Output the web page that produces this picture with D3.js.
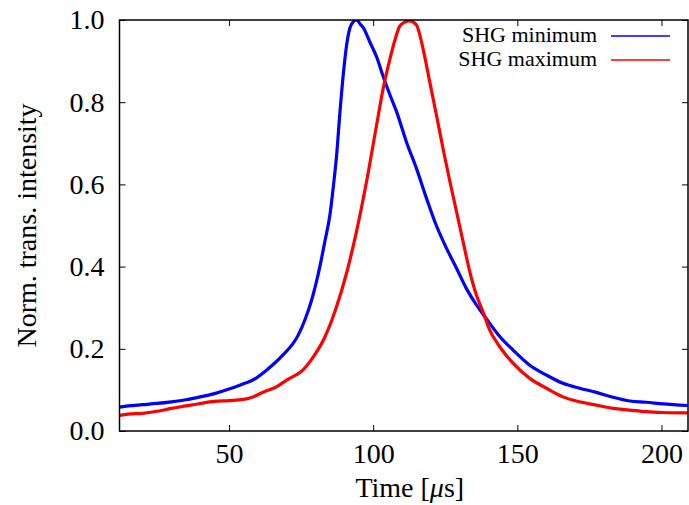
<!DOCTYPE html>
<html><head><meta charset="utf-8">
<script src="https://cdn.jsdelivr.net/npm/d3@7"></script>
<style>
html,body{margin:0;padding:0;background:#fff;}
svg{display:block;}
text{font-family:"Liberation Serif","Times New Roman",serif;fill:#000;}
</style></head>
<body>
<svg id="chart" width="689" height="505"></svg>
<script>
// ---- data ----
const seriesNames = ["SHG minimum", "SHG maximum"];
const seriesColors = ["#0000ff", "#ff0000"];
const xTicks = [50, 100, 150, 200];
const yTicks = [0.0, 0.2, 0.4, 0.6, 0.8, 1.0];
const xLabel = "Time [";
const yLabel = "Norm. trans. intensity";

const shgMinTime = [12,15,20,25,30,35,40,45,50,55,58.3,63,68.3,73.9,76.3,78.7,81.5,83.2,85,86.1,87.3,88.4,89.6,90.8,91.9,93,94.2,95.5,96.5,98.8,101.2,103.5,105.8,108.1,111.5,115,118.5,121.9,125.4,128.9,132.3,135.8,137,140.4,143.9,148.5,154.3,160.1,165.8,171.6,177.4,183.2,189,194.7,200.5,209];
const shgMinVal  = [0.058,0.061,0.064,0.067,0.071,0.076,0.083,0.091,0.102,0.115,0.124,0.148,0.182,0.232,0.27,0.32,0.4,0.46,0.526,0.59,0.67,0.77,0.866,0.94,0.98,0.995,1.0,0.99,0.982,0.947,0.91,0.862,0.818,0.777,0.704,0.639,0.566,0.5,0.445,0.396,0.347,0.307,0.295,0.262,0.23,0.197,0.16,0.136,0.116,0.104,0.094,0.082,0.073,0.07,0.066,0.062];

const shgMaxTime = [12,15,20,25,30,35,40,45,50,55,58.3,62,66.6,70,75.6,79.7,83,86.7,90.8,94.2,97.7,101.2,103.5,105.8,107.5,109.2,111,112.7,115,117.3,119.6,121.9,124.2,126.6,128.9,131.2,133.5,135.8,138.1,140.4,143.9,148.5,154.3,160.1,165.8,171.6,177.4,183.2,189,194.7,200.5,209];
const shgMaxVal  = [0.038,0.041,0.043,0.048,0.055,0.061,0.067,0.072,0.074,0.077,0.083,0.095,0.108,0.124,0.148,0.185,0.225,0.29,0.385,0.485,0.607,0.745,0.835,0.905,0.95,0.985,0.995,0.998,0.988,0.93,0.85,0.77,0.688,0.607,0.534,0.46,0.388,0.331,0.29,0.246,0.205,0.165,0.128,0.104,0.083,0.071,0.063,0.055,0.051,0.047,0.045,0.044];

const series = [
  shgMinTime.map((t,i)=>({x:t,y:shgMinVal[i]})),
  shgMaxTime.map((t,i)=>({x:t,y:shgMaxVal[i]}))
];

// ---- layout ----
const svg = d3.select("#chart");
const L = 119.5, R = 688, T = 20, B = 431;
const x = d3.scaleLinear().domain([12, 209.2]).range([L, R]);
const y = d3.scaleLinear().domain([0, 1]).range([B, T]);

const plot = svg.append("g");
plot.append("clipPath").attr("id","clip").append("rect")
  .attr("x",L).attr("y",T).attr("width",R-L).attr("height",B-T);

const line = d3.line().x(d=>x(d.x)).y(d=>y(d.y)).curve(d3.curveMonotoneX);
const dataG = plot.append("g").attr("clip-path","url(#clip)");
series.forEach((s,i)=>{
  dataG.append("path").datum(s).attr("d",line)
    .attr("fill","none").attr("stroke",seriesColors[i])
    .attr("stroke-width",3.2).attr("stroke-linejoin","round");
});

// axes with inward ticks, mirrored
const tickLen = 6;
const axB = d3.axisBottom(x).tickValues(xTicks).tickSize(-tickLen).tickPadding(12).tickFormat(d3.format("d"));
const axT = d3.axisTop(x).tickValues(xTicks).tickSize(-tickLen).tickFormat("");
const axL = d3.axisLeft(y).tickValues(yTicks).tickSize(-tickLen).tickPadding(15).tickFormat(d3.format(".1f"));
const axR = d3.axisRight(y).tickValues(yTicks).tickSize(-tickLen).tickFormat("");

function style(g){
  g.select(".domain").remove();
  g.selectAll(".tick line").attr("stroke","#000").attr("stroke-width",1);
  g.selectAll(".tick text").attr("font-size",28).attr("fill","#000");
}
svg.append("g").attr("transform",`translate(0,${B})`).call(axB).call(style);
svg.append("g").attr("transform",`translate(0,${T})`).call(axT).call(style);
svg.append("g").attr("transform",`translate(${L},0)`).call(axL).call(style);
svg.append("g").attr("transform",`translate(${R},0)`).call(axR).call(style);

// frame
svg.append("rect").attr("x",L).attr("y",T).attr("width",R-L).attr("height",B-T)
  .attr("fill","none").attr("stroke","#000").attr("stroke-width",1.5);

// axis titles
const xt = svg.append("text").attr("x",(L+R)/2 + 6).attr("y",497).attr("text-anchor","middle").attr("font-size",28);
xt.append("tspan").text(xLabel);
xt.append("tspan").attr("font-style","italic").text("\u03bc");
xt.append("tspan").text("s]");

svg.append("text").attr("transform",`translate(36,${(T+B)/2}) rotate(-90)`)
  .attr("text-anchor","middle").attr("font-size",28).text(yLabel);

// legend
const legY = [36, 60];
seriesNames.forEach((n,i)=>{
  svg.append("text").attr("x",597).attr("y",legY[i]+6).attr("text-anchor","end")
    .attr("font-size",22).text(n);
  svg.append("line").attr("x1",611).attr("x2",670).attr("y1",legY[i]).attr("y2",legY[i])
    .attr("stroke",seriesColors[i]).attr("stroke-width",1.5);
});
</script>
</body></html>
